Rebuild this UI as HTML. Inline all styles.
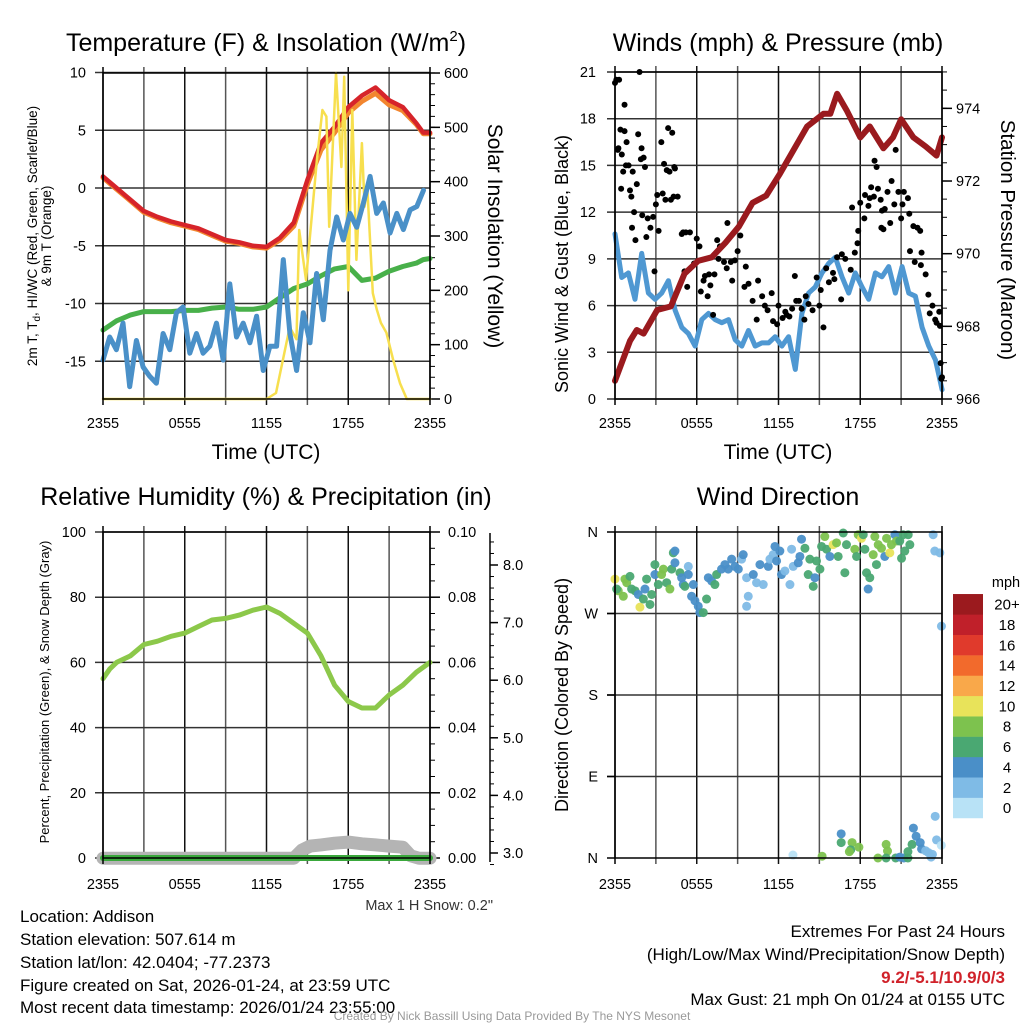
<!DOCTYPE html>
<html><head><meta charset="utf-8"><style>
html,body{margin:0;padding:0;background:#fff;}
svg{display:block;font-family:"Liberation Sans",Arial,sans-serif;}
</style></head><body>
<svg id="c" width="1024" height="1024" viewBox="0 0 1024 1024" xmlns="http://www.w3.org/2000/svg">
<rect width="1024" height="1024" fill="#fff"/>
<text x="266" y="51" font-size="25" text-anchor="middle">Temperature (F) &amp; Insolation (W/m<tspan dy="-10" font-size="15">2</tspan><tspan dy="10">)</tspan></text>
<text x="778" y="51" font-size="25" text-anchor="middle">Winds (mph) &amp; Pressure (mb)</text>
<text x="266" y="505" font-size="25" text-anchor="middle">Relative Humidity (%) &amp; Precipitation (in)</text>
<text x="778" y="505" font-size="25" text-anchor="middle">Wind Direction</text>

<text x="266" y="459" font-size="21" text-anchor="middle">Time (UTC)</text>
<text x="778" y="459" font-size="21" text-anchor="middle">Time (UTC)</text>

<text transform="translate(37,236) rotate(-90)" font-size="13.5" text-anchor="middle">2m T, T<tspan dy="3" font-size="10">d</tspan><tspan dy="-3">,  HI/WC (Red, Green, Scarlet/Blue)</tspan></text>
<text transform="translate(51,236) rotate(-90)" font-size="13.5" text-anchor="middle">&amp; 9m T (Orange)</text>
<text transform="translate(488,236) rotate(90)" font-size="21" text-anchor="middle">Solar Insolation (Yellow)</text>
<text transform="translate(568,264) rotate(-90)" font-size="18" text-anchor="middle">Sonic Wind &amp; Gust (Blue, Black)</text>
<text transform="translate(1001,240) rotate(90)" font-size="20.5" text-anchor="middle">Station Pressure (Maroon)</text>
<text transform="translate(49,692) rotate(-90)" font-size="13" text-anchor="middle">Percent, Precipitation (Green), &amp; Snow Depth (Gray)</text>
<text transform="translate(568,695) rotate(-90)" font-size="18" text-anchor="middle">Direction (Colored By Speed)</text>

<text x="493" y="910" font-size="14.5" text-anchor="end" fill="#333">Max 1 H Snow: 0.2"</text>

<g font-size="17">
<text x="20" y="922">Location: Addison</text>
<text x="20" y="945">Station elevation: 507.614 m</text>
<text x="20" y="968">Station lat/lon: 42.0404; -77.2373</text>
<text x="20" y="991">Figure created on Sat, 2026-01-24, at 23:59 UTC</text>
<text x="20" y="1013">Most recent data timestamp: 2026/01/24 23:55:00</text>
</g>
<g font-size="17" text-anchor="end">
<text x="1005" y="937">Extremes For Past 24 Hours</text>
<text x="1005" y="960">(High/Low/Max Wind/Precipitation/Snow Depth)</text>
<text x="1005" y="983" fill="#d0222a" font-weight="bold">9.2/-5.1/10.9/0/3</text>
<text x="1005" y="1005">Max Gust: 21 mph On 01/24 at 0155 UTC</text>
</g>
<text x="512" y="1020" font-size="12" fill="#999" text-anchor="middle">Created By Nick Bassill Using Data Provided By The NYS Mesonet</text>
</svg>
<script>
// ---------- data ----------
const timeTicks = ["2355","0555","1155","1755","2355"];
const tempTimes = [0,1,2,3,4,5,6,7,8,9,10,11,12,13,14,15,16,17,18,19,20,21,22,23,23.5,24];
const tempVals = [1,0,-1,-2,-2.5,-2.9,-3.2,-3.5,-4,-4.5,-4.7,-5,-5.1,-4.3,-3,0.7,3.9,5.3,7,8,8.7,7.6,7.0,5.6,4.8,4.8];
const t9mVals = [0.9,-0.1,-1.1,-2.1,-2.6,-3,-3.3,-3.6,-4.1,-4.6,-4.8,-5.1,-5.2,-4.5,-3.3,0.3,3.3,4.8,6.5,7.5,8.2,7.2,6.7,5.5,4.7,4.7];
const dewVals = [-12.3,-11.5,-11,-10.7,-10.7,-10.7,-10.6,-10.6,-10.4,-10.3,-10.5,-10.5,-10.3,-9.5,-8.7,-8.3,-7.6,-7.0,-6.8,-8.0,-7.8,-7.2,-6.8,-6.5,-6.2,-6.1];
const wcVals = [-14.9,-12.9,-14.0,-11.7,-17.2,-13.2,-15.5,-16.3,-16.9,-12.6,-14.0,-10.8,-10.3,-14.3,-12.6,-14.3,-13.7,-11.7,-14.9,-8.3,-12.9,-11.7,-13.4,-11.1,-15.8,-13.7,-13.7,-6.2,-12.6,-15.8,-10.8,-13.4,-7.4,-11.4,-5.4,-2.5,-4.5,-2.2,-3.4,-1.3,1.0,-2.2,-1.3,-3.9,-2.2,-3.6,-1.9,-1.6,-0.2];
const solarTimes = [0,12.0,12.7,13.7,14.2,14.4,14.9,15.7,16.1,16.4,16.6,17.1,17.5,17.7,18.0,18.3,18.6,19.0,19.2,19.4,19.8,20.1,20.4,20.8,21.3,21.8,22.3,24];
const solarVals = [0,0,11,132,110,311,219,440,532,520,317,600,427,593,200,532,256,471,354,390,195,164,140,122,72,29,0,0];

const presTimes = [0,0.6,1.1,1.6,2.1,3.1,4.1,5.1,6.1,7.1,8.1,9.1,10.1,11.1,12.1,13.1,14.1,15.3,15.8,16.3,17.0,18.0,18.7,19.7,20.4,21.0,21.9,22.8,23.6,24];
const presVals = [966.5,967.1,967.6,967.9,967.8,968.45,968.55,969.45,969.8,969.9,970.3,970.75,971.4,971.6,972.2,972.85,973.5,973.85,973.85,974.4,973.95,973.2,973.5,972.9,973.2,973.7,973.2,972.95,972.7,973.2];
const windVals = [10.6,7.8,8.1,6.4,9.35,6.8,6.4,6.8,7.6,5.7,4.6,4.2,3.4,5.1,5.5,5.1,4.9,5.1,3.8,3.4,4.4,3.4,3.6,3.6,4.0,3.4,4.0,1.9,5.5,6.8,7.2,8.1,8.7,9.1,7.85,6.8,8.1,7.2,6.4,8.1,7.85,8.5,6.8,8.5,6.8,6.6,4.6,3.4,2.5,0.6];
const gustTimes = [0,0.1,0.3,0.2,0.25,0.4,0.5,0.45,0.7,0.7,0.6,0.8,0.85,1.0,1.1,1.2,1.25,1.3,1.4,1.5,1.6,1.7,1.8,1.9,1.95,2.0,2.1,2.2,2.3,2.4,2.6,2.8,2.9,3.0,3.1,3.2,3.4,3.6,3.5,3.7,3.8,3.9,4.0,4.1,4.2,4.3,4.4,4.6,4.35,4.9,5.0,5.2,5.1,5.3,5.5,5.8,6.0,6.2,6.3,6.5,6.6,6.8,6.9,7.0,7.2,7.3,7.6,7.5,7.7,8.0,8.2,8.25,8.6,8.8,9.0,8.5,9.2,9.6,9.5,9.8,10.1,10.4,10.5,10.8,11.0,11.2,11.5,11.6,11.9,12.0,12.3,12.5,12.6,12.8,13.0,13.2,13.3,13.5,13.7,13.9,14.0,14.2,14.5,14.8,15.0,15.3,15.1,15.5,15.7,16.1,16.6,16.0,16.3,16.65,16.9,17.3,17.6,17.8,17.4,17.85,18.0,18.3,18.6,18.8,18.35,18.7,19.0,19.2,19.3,19.5,19.6,19.8,19.05,19.55,19.7,20.0,20.2,20.3,20.5,20.6,20.8,21.0,21.1,21.2,21.5,21.6,21.65,21.9,22.0,22.2,22.4,22.45,22.5,22.8,23.0,23.1,23.3,23.5,23.6,23.8,23.85,23.9,24,23.95];
const gustVals = [20.3,20.5,20.5,16,16.1,17.3,15.7,13.5,18.9,17.2,14.6,15,16.5,15.0,13.4,13.0,11,14.6,12,10.2,13.8,17,21,15.4,16.1,11.8,15.5,14.9,10.4,11.6,11,11.7,8.2,12.5,13.1,10.8,16.5,15.1,13.2,12.8,14.7,17.4,14.6,12.8,17.1,13.0,14.8,13,14.9,10.6,10.7,10.7,8.2,7.2,10.7,8.7,10.3,9.8,6.9,7.6,7.9,6.6,8.0,7.3,5.4,8.0,9.0,10.2,9.8,8.8,8.4,11.3,7.6,8.9,9.5,8.8,10.5,8.5,7.2,7.4,6.3,5.1,7.6,6.6,6.0,5.7,6.8,5.0,4.8,6.0,5.2,5.6,5.4,5.3,5.8,7.9,6.3,6.3,5.8,5.1,6.6,6.1,5.7,7.8,6.0,4.6,7.0,8.4,7.5,7.7,6.4,8.1,9.1,9.3,9.0,8.3,9.4,10.0,12.3,10.8,12.6,11.6,12.4,13.6,13.1,12.9,13.0,14.9,13.5,12.8,12.1,12.2,15.3,11.0,10.9,13.3,11.3,14.0,12.5,16.0,13.3,11.6,12.5,13.3,12.9,11.9,9.5,11.1,8.8,11.0,10.8,8.6,9.4,8.0,6.7,5.5,6.0,5.1,4.9,5.6,4.7,2.3,1.4,1.3];

const rhTimes = [0,0.5,1,2,3,4,5,6,7,8,9,10,11,12,13,14,15,16,17,18,19,20,21,22,23,24];
const rhVals = [55,58,60,62,65.5,66.5,68,69,71,73,73.5,74.5,76,77,75,72,69,62,53,48,46,46,50,53,57,60];
const snowTimes = [0,14,14.6,15.2,16,17,18,19,20,21,22,22.6,23.2,24];
const snowVals = [2.91,2.91,3.05,3.12,3.14,3.17,3.19,3.16,3.14,3.12,3.1,2.95,2.91,2.91];
const precipTimes = [0,24];
const precipVals = [0,0];

const dirTimes = [0,0.24,0.12,0.73,0.86,1.1,0.61,1.22,1.47,1.71,1.83,2.08,2.2,2.32,2.57,2.69,2.93,2.93,3.18,3.42,3.55,3.79,4.03,4.16,4.28,4.4,4.4,4.77,4.89,5.01,5.13,5.38,5.38,5.75,5.62,5.87,6.11,6.23,6.48,6.72,6.85,7.09,7.33,7.46,7.82,8.07,8.31,8.56,8.8,9.05,9.29,9.41,9.66,9.78,9.66,10.15,10.39,10.64,10.88,11.25,11.37,11.61,11.74,11.86,12.1,12.22,12.47,12.84,12.96,13.08,13.45,13.57,13.69,13.94,14.18,14.3,14.55,14.67,14.79,15.04,15.16,15.4,15.53,15.77,16.01,16.26,16.38,16.75,16.87,16.99,17.6,17.73,17.85,18.09,18.22,18.34,18.46,18.58,18.7,18.95,19.07,19.19,19.32,19.56,19.8,19.93,20.17,20.29,20.54,20.66,20.9,21.03,21.15,21.27,21.52,21.64,23.35,23.47,23.84,23.96,
 13.06,15.2,16.6,16.6,17.4,17.3,17.2,17.9,19.9,20.0,19.3,19.9,20.6,20.9,21.2,21.5,21.5,21.8,21.9,22.1,22.4,22.5,22.8,23.0,23.3,23.2,23.5,23.6,23.95];
const dirVals = [308,295,297,308,304,311,289,297,295,291,277,286,297,308,280,291,324,313,302,313,319,304,297,319,337,339,326,315,309.5,302,300,322,313,302,289,284,278,271,271,286,309.5,306,302,313,319,324,319,330,322,319,330,335,309.5,289,278,313,304,324,302,322,330,335,344,328,339,313,317,302,341,322,326,333,352,342,313,330,300,309.5,328,319,344,355,341,333,346,348,333,358.9,315,346,341,333,357,353,357,341,315,297,309.5,335,355,324,346,342,333,353,337,346,357,350,350,331,357,339,357,346,357,339,337,256,
 3.3,2,26.7,17,17,9,7,12,15,7.7,0,0,0,1,0,0,7,15,33,24,17,10,8,6,4,1,46,20,14];
const dirSpeeds = [11,9,7,9,9,7,9,7,7,5,11,7,5,7,7,7,7,5,7,9,9,7,9,7,7,5,5,7,5,5,7,3,5,5,5,5,5,5,7,7,5,5,7,7,5,5,5,5,5,5,3,5,3,3,3,5,3,5,3,5,3,3,5,5,5,5,3,3,3,3,5,5,5,7,7,7,7,5,7,7,7,9,7,5,11,9,7,7,7,7,9,7,9,11,7,7,7,5,7,9,9,7,9,9,5,9,11,9,5,9,7,7,7,7,7,7,3,3,3,3,
 1,9,5,7,9,7,9,9,9,9,9,7,7,5,5,7,7,7,5,5,5,5,3,3,3,3,3,3,1];
const speedLabels = ["0","2","4","6","8","10","12","14","16","18","20+"];
const speedColors = ["#b8e2f6","#7fbbe6","#4a8fc8","#4aa872","#7dc24e","#e8e35a","#f9a84a","#f26a2c","#e03a2c","#c0202a","#9b1a1e"];

// ---------- helpers ----------
const svg = document.getElementById('c');
const NS = "http://www.w3.org/2000/svg";
function mk(tag, attrs, parent){
  const e = document.createElementNS(NS, tag);
  for (const k in attrs) e.setAttribute(k, attrs[k]);
  (parent||svg).appendChild(e);
  return e;
}
function txt(x,y,s,size,anchor,parent){
  const t = mk('text',{x:x,y:y,'font-size':size,'text-anchor':anchor},parent);
  t.textContent = s;
  return t;
}
const W = 327/24;
const xA = t => 103 + t*W;
const xB = t => 615 + t*W;
const yTemp = v => 188 - v*11.55;
const ySolar = v => 399 - v*0.5433;
const yWind = v => 399 - v*15.571;
const yPres = p => 399 - (p-966)*36.33;
const yRH = v => 858 - v*3.26;
const yPrecip = v => 858 - v*3260;
const ySnow = v => 853 - (v-3)*57.6;
const yDir = d => 858 - d*(326/360);

function polyline(ts, vs, fx, fy, color, width, name){
  let d = "";
  for (let i=0;i<vs.length;i++){ d += (i?"L":"M") + fx(ts[i]).toFixed(1) + "," + fy(vs[i]).toFixed(1); }
  const p = mk('path',{d:d,fill:'none',stroke:color,'stroke-width':width,'stroke-linejoin':'round','stroke-linecap':'round'});
  
  
  return p;
}
function frame(x0,y0,x1,y1,name,hLines){
  const g = mk('g',{});
  
  
  for (let i=1;i<8;i++){
    const x = x0 + i*(x1-x0)/8;
    const l = mk('line',{x1:x,y1:y0-6,x2:x,y2:y1+6,stroke:(i%2? '#555':'#111'),'stroke-width':1.5},g);
    
    
  }
  hLines.forEach(y=>{
    const l = mk('line',{x1:x0-8,y1:y,x2:x1,y2:y,stroke:'#333','stroke-width':1.5},g);
    
    
  });
  return g;
}
function border(x0,y0,x1,y1,name){
  const r = mk('rect',{x:x0,y:y0,width:x1-x0,height:y1-y0,fill:'none',stroke:'#000','stroke-width':1.5});
  
  
  [x0,x1].forEach(x=>{ const l=mk('line',{x1:x,y1:y0-6,x2:x,y2:y1+6,stroke:'#000','stroke-width':1.5});   });
}
function xTicks(fx, y){
  const g = mk('g',{});
  
  
  timeTicks.forEach((s,i)=>{ const t=txt(fx(i*6), y, s, 14.5, 'middle', g);   });
}
function rightMinor(x, y0, y1, step){
  for (let y=y1; y>=y0-0.5; y-=step){
    const l = mk('line',{x1:x,y1:y,x2:x+5,y2:y,stroke:'#000','stroke-width':1});
    
    
  }
}

// ---------- panel 1 ----------
const tempTicks = [10,5,0,-5,-10,-15];
const solarTicks = [0,100,200,300,400,500,600];
frame(103,73,430,399,'temp-grid',tempTicks.map(yTemp));
tempTicks.forEach(v=>{ const t=txt(86,yTemp(v)+5,String(v),14.5,'end');   });
rightMinor(430,73,399,10.87);
solarTicks.forEach(v=>{
  const l=mk('line',{x1:430,y1:ySolar(v),x2:440,y2:ySolar(v),stroke:'#000','stroke-width':1.5});  
  const t=txt(444,ySolar(v)+5,String(v),14.5,'start');  
});
polyline(tempTimes, dewVals, xA, yTemp, '#48b04a', 5, 'dewpoint-line');
polyline(tempTimes, t9mVals, xA, yTemp, '#f2862f', 5, 'temp-9m-line');
polyline(tempTimes, tempVals, xA, yTemp, '#d6242a', 4.5, 'temp-2m-line');
polyline(solarTimes, solarVals, xA, ySolar, '#f7df4e', 2.5, 'solar-insolation-line');
const wcTimes = wcVals.map((v,i)=>i*0.49);
polyline(wcTimes, wcVals, xA, yTemp, '#4a90c8', 5, 'windchill-line');
border(103,73,430,399,'temp-plot-frame');
xTicks(xA, 428);

// ---------- panel 2 ----------
const windTicks = [0,3,6,9,12,15,18,21];
const presTicks = [966,968,970,972,974];
frame(615,72,942,399,'wind-grid',windTicks.map(yWind));
windTicks.forEach(v=>{ const t=txt(596,yWind(v)+5,String(v),14.5,'end');   });
rightMinor(942,72,399,18.17);
presTicks.forEach(v=>{
  const l=mk('line',{x1:942,y1:yPres(v),x2:952,y2:yPres(v),stroke:'#000','stroke-width':1.5});  
  const t=txt(956,yPres(v)+5,String(v),14.5,'start');  
});
const windTimes = windVals.map((v,i)=>i*0.49);
polyline(windTimes, windVals, xB, yWind, '#4f98d2', 5, 'sonic-wind-line');
const gg = mk('g',{});


gustVals.forEach((v,i)=>{
  const c = mk('circle',{cx:xB(gustTimes[i]),cy:yWind(v),r:3,fill:'#000'},gg);
  
  
});
polyline(presTimes, presVals, xB, yPres, '#9a1a1e', 6, 'pressure-line');
border(615,72,942,399,'wind-plot-frame');
xTicks(xB, 428);

// ---------- panel 3 ----------
const rhTicks = [0,20,40,60,80,100];
const precipTicks = ["0.00","0.02","0.04","0.06","0.08","0.10"];
const snowTicks = [3,4,5,6,7,8];
frame(103,532,430,858,'humidity-grid',rhTicks.map(yRH));
rhTicks.forEach(v=>{ const t=txt(86,yRH(v)+5,String(v),14.5,'end');   });
rightMinor(430,532,858,16.3);
precipTicks.forEach(s=>{
  const y = yPrecip(parseFloat(s));
  const l=mk('line',{x1:430,y1:y,x2:440,y2:y,stroke:'#000','stroke-width':1.5});  
  const t=txt(448,y+5,s,14.5,'start');  
});
{
  const l = mk('line',{x1:490,y1:533,x2:490,y2:862,stroke:'#000','stroke-width':1.5});
   
  for (let v=2.8; v<=8.6; v+=0.2){ const m=mk('line',{x1:490,y1:ySnow(v),x2:494,y2:ySnow(v),stroke:'#000','stroke-width':1});   }
  snowTicks.forEach(v=>{
    const m=mk('line',{x1:490,y1:ySnow(v),x2:498,y2:ySnow(v),stroke:'#000','stroke-width':1.5});  
    const t=txt(503,ySnow(v)+5,v.toFixed(1),14.5,'start');  
  });
}
polyline(snowTimes, snowVals, xA, ySnow, '#b4b4b4', 13, 'snow-depth-line');
polyline(precipTimes, precipVals, xA, yPrecip, '#3aa83c', 6, 'precip-line');
polyline(rhTimes, rhVals, xA, yRH, '#8cc84a', 5, 'rh-line');
border(103,532,430,858,'humidity-plot-frame');
xTicks(xA, 889);

// ---------- panel 4 ----------
const dirTicks = [["N",0],["E",90],["S",180],["W",270],["N",360]];
frame(615,532,942,858,'direction-grid',[90,180,270].map(yDir));
dirTicks.forEach(d=>{
  const l=mk('line',{x1:607,y1:yDir(d[1]),x2:615,y2:yDir(d[1]),stroke:'#000','stroke-width':1.5});  
  const t=txt(598,yDir(d[1])+5,d[0],14.5,'end');  
});
const dg = mk('g',{});


dirVals.forEach((v,i)=>{
  const bin = Math.min(10, Math.floor(dirSpeeds[i]/2));
  const c = mk('circle',{cx:xB(dirTimes[i]),cy:yDir(v),r:4.5,fill:speedColors[bin],'fill-opacity':0.95},dg);
  
  
});
border(615,532,942,858,'direction-plot-frame');
xTicks(xB, 889);

// colorbar
const cb = mk('g',{});


const mt = txt(1006,587,'mph',14.5,'middle',cb);


speedColors.forEach((col,i)=>{
  const y = 818 - (i+1)*20.36;
  const r = mk('rect',{x:953,y:y,width:30,height:20.6,fill:col},cb);
  
  
  const t = txt(1007,y+15.5,speedLabels[i],15,'middle',cb);
  
  
});
</script>
</body></html>
